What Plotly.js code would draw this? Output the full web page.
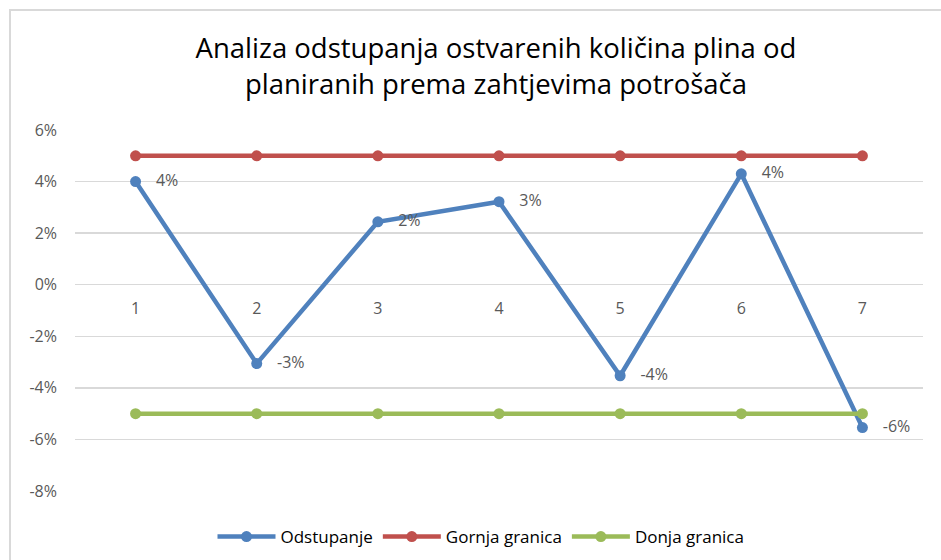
<!DOCTYPE html>
<html>
<head>
<meta charset="utf-8">
<script src="https://cdn.plot.ly/plotly-3.0.1.min.js"></script>
<style>
  html, body { margin:0; padding:0; background:#fff; }
  #frame { position:absolute; left:9px; top:9px; width:932px; height:551px; border-top:2px solid #d9d9d9; border-left:2px solid #d9d9d9; box-sizing:border-box; }
  #chart { position:absolute; left:0; top:0; width:941px; height:560px; }
</style>
</head>
<body>
<div id="frame"></div>
<div id="chart"></div>
<script>
const categories = ['1','2','3','4','5','6','7'];
const odstupanje = [0.040, -0.0306, 0.0244, 0.0322, -0.0353, 0.0430, -0.0554];
const gornjaGranica = [0.05, 0.05, 0.05, 0.05, 0.05, 0.05, 0.05];
const donjaGranica = [-0.05, -0.05, -0.05, -0.05, -0.05, -0.05, -0.05];
const seriesNames = ['Odstupanje', 'Gornja granica', 'Donja granica'];
const yTickVals = [-0.08, -0.06, -0.04, -0.02, 0, 0.02, 0.04, 0.06];
const yTickText = ['-8%', '-6%', '-4%', '-2%', '0%', '2%', '4%', '6%'];

const FONT = 'Open Sans, Liberation Sans, Arial, sans-serif';
const pct = v => '\u00a0\u00a0\u00a0' + Math.round(v * 100) + '%';

const traces = [
  {
    x: categories, y: odstupanje, name: seriesNames[0], type: 'scatter',
    mode: 'lines+markers+text',
    text: odstupanje.map(pct), textposition: 'middle right',
    textfont: {family: FONT, size: 16, color: '#595959'},
    line: {color: '#4F81BD', width: 4.5}, marker: {color: '#4F81BD', size: 11},
    cliponaxis: false
  },
  {
    x: categories, y: gornjaGranica, name: seriesNames[1], type: 'scatter',
    mode: 'lines+markers',
    line: {color: '#C0504D', width: 4.5}, marker: {color: '#C0504D', size: 11},
    cliponaxis: false
  },
  {
    x: categories, y: donjaGranica, name: seriesNames[2], type: 'scatter',
    mode: 'lines+markers',
    line: {color: '#9BBB59', width: 4.5}, marker: {color: '#9BBB59', size: 11},
    cliponaxis: false
  }
];

const layout = {
  width: 941, height: 560,
  paper_bgcolor: 'rgba(0,0,0,0)', plot_bgcolor: 'rgba(0,0,0,0)',
  margin: {l: 75, r: 18, t: 130, b: 69},
  font: {family: FONT, color: '#595959'},
  showlegend: true,
  title: {
    text: 'Analiza odstupanja ostvarenih količina plina od<br>planiranih prema zahtjevima potrošača',
    font: {family: FONT, size: 27.5, color: '#000000'},
    xref: 'container', x: 496/941, xanchor: 'center',
    yref: 'container', y: 1 - 58/560, yanchor: 'middle'
  },
  xaxis: {
    type: 'category', range: [-0.5, 6.5],
    anchor: 'free', position: 8/14,
    showgrid: false, zeroline: false, showline: false, ticks: '',
    ticklabelstandoff: 12,
    tickfont: {family: FONT, size: 16, color: '#595959'}
  },
  yaxis: {
    range: [-0.08, 0.06], tickvals: yTickVals, ticktext: yTickText,
    showgrid: true, gridcolor: '#d9d9d9', gridwidth: 1.5,
    zeroline: false, showline: false, ticks: '',
    ticklabelstandoff: 17,
    tickfont: {family: FONT, size: 16, color: '#595959'}
  },
  legend: {
    orientation: 'h', xref: 'container', yref: 'container',
    x: 481/941, xanchor: 'center', y: 1 - 537/560, yanchor: 'middle',
    font: {family: FONT, size: 17, color: '#000000'},
    itemwidth: 58
  }
};

Plotly.newPlot('chart', traces, layout, {displayModeBar: false, staticPlot: true});
</script>
</body>
</html>
